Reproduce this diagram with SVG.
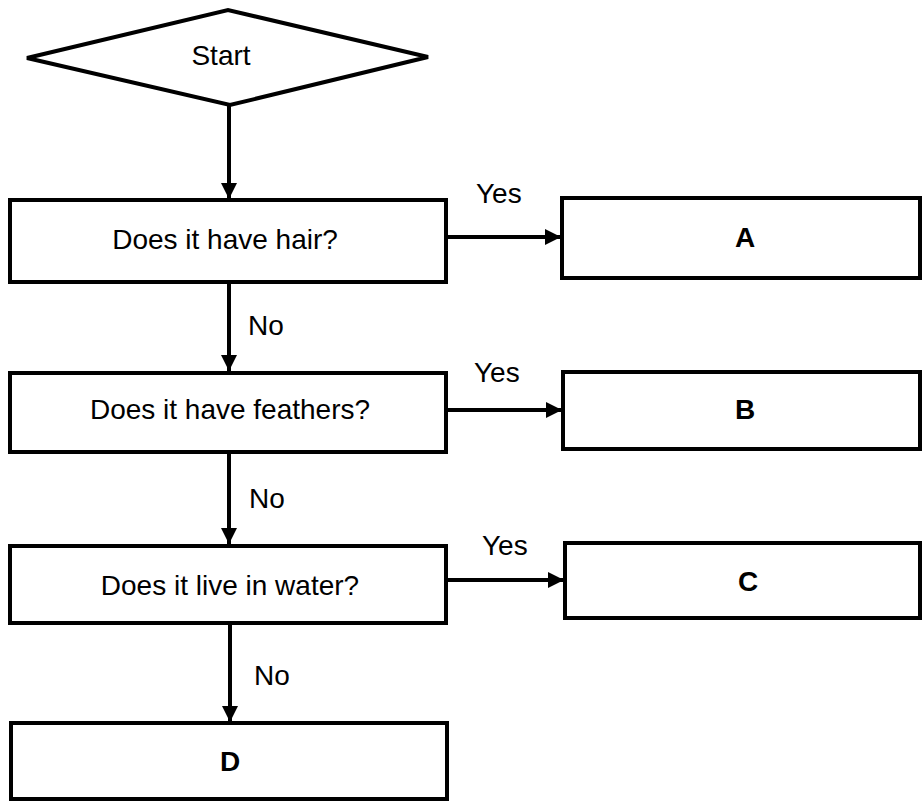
<svg xmlns="http://www.w3.org/2000/svg" width="923" height="802" viewBox="0 0 923 802">
<defs>
<style>
.node{fill:#fff;stroke:#000;stroke-width:4;stroke-linejoin:miter}
.t{font-family:"Liberation Sans",Arial,sans-serif;font-size:28px;fill:#000;text-anchor:middle}
.b{font-weight:bold}
.lbl{font-family:"Liberation Sans",Arial,sans-serif;font-size:28px;fill:#000}
.edge{stroke:#000;stroke-width:4;fill:none}
</style>
<marker id="ah" viewBox="0 0 10 10" refX="10" refY="5" markerWidth="4" markerHeight="4" markerUnits="strokeWidth" orient="auto">
<path d="M0,0 L10,5 L0,10 Z" fill="#000"/>
</marker>
</defs>
<rect width="923" height="802" fill="#fff"/>
<g id="connectors">
<line class="edge" x1="229" y1="105" x2="229" y2="199" marker-end="url(#ah)"/>
<line class="edge" x1="446" y1="237" x2="561" y2="237" marker-end="url(#ah)"/>
<text class="lbl" x="476" y="203">Yes</text>
<line class="edge" x1="229" y1="282" x2="229" y2="371" marker-end="url(#ah)"/>
<text class="lbl" x="248" y="335">No</text>
<line class="edge" x1="446" y1="410" x2="562" y2="410" marker-end="url(#ah)"/>
<text class="lbl" x="474" y="382">Yes</text>
<line class="edge" x1="229" y1="452" x2="229" y2="544" marker-end="url(#ah)"/>
<text class="lbl" x="249" y="508">No</text>
<line class="edge" x1="446" y1="580" x2="564" y2="580" marker-end="url(#ah)"/>
<text class="lbl" x="482" y="555">Yes</text>
<line class="edge" x1="230" y1="623" x2="230" y2="722" marker-end="url(#ah)"/>
<text class="lbl" x="254" y="685">No</text>
</g>
<g id="start">
<polygon class="node" points="27,58 228,10 428,57 230,105"/>
<text class="t" x="221" y="65">Start</text>
</g>
<g id="q1">
<rect class="node" x="10" y="200" width="436" height="82"/>
<text class="t" x="225" y="249">Does it have hair?</text>
</g>
<g id="a">
<rect class="node" x="562" y="198" width="358" height="80"/>
<text class="t b" x="745" y="247">A</text>
</g>
<g id="q2">
<rect class="node" x="10" y="373" width="436" height="79"/>
<text class="t" x="230" y="419">Does it have feathers?</text>
</g>
<g id="b">
<rect class="node" x="563" y="372" width="357" height="77"/>
<text class="t b" x="745" y="419">B</text>
</g>
<g id="q3">
<rect class="node" x="10" y="546" width="436" height="77"/>
<text class="t" x="230" y="595">Does it live in water?</text>
</g>
<g id="c">
<rect class="node" x="565" y="543" width="355" height="75"/>
<text class="t b" x="748" y="591">C</text>
</g>
<g id="d">
<rect class="node" x="11" y="723" width="436" height="76"/>
<text class="t b" x="230" y="771">D</text>
</g>
</svg>
